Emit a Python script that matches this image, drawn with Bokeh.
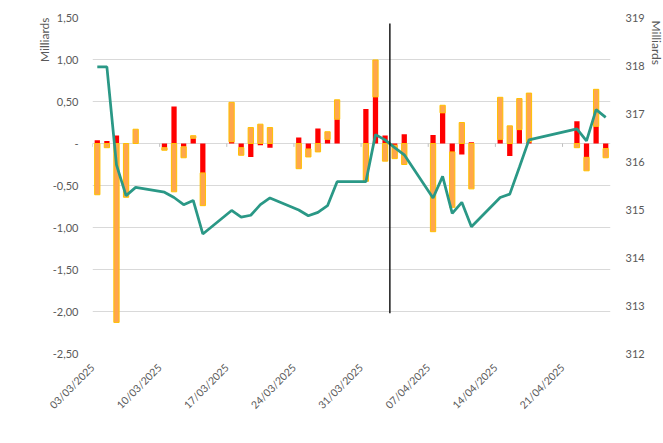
import numpy as np
import pandas as pd
from math import pi
from bokeh.plotting import figure
from bokeh.models import (ColumnDataSource, Range1d, LinearAxis, FixedTicker,
                          DatetimeTickFormatter, CustomJSTickFormatter, Legend,
                          LegendItem, Title, Axis)
from bokeh.embed import file_html
from bokeh.resources import INLINE

# ---------------- data ----------------
dates = [
    "2025-03-03", "2025-03-04", "2025-03-05", "2025-03-06", "2025-03-07",
    "2025-03-10", "2025-03-11", "2025-03-12", "2025-03-13", "2025-03-14",
    "2025-03-17", "2025-03-18", "2025-03-19", "2025-03-20", "2025-03-21",
    "2025-03-24", "2025-03-25", "2025-03-26", "2025-03-27", "2025-03-28",
    "2025-03-31", "2025-04-01", "2025-04-02", "2025-04-03", "2025-04-04",
    "2025-04-07", "2025-04-08", "2025-04-09", "2025-04-10", "2025-04-11",
    "2025-04-14", "2025-04-15", "2025-04-16", "2025-04-17",
    "2025-04-22", "2025-04-23", "2025-04-24", "2025-04-25",
]
effet_brut_collecte = [
    0.04, 0.03, 0.095, 0.0, 0.0,
    -0.05, 0.44, -0.04, 0.063, -0.35,
    0.02, -0.05, -0.16, -0.02, -0.05,
    0.07, -0.065, 0.18, 0.05, 0.29,
    0.41, 0.555, 0.095, -0.02, 0.11,
    0.10, 0.365, -0.10, -0.13, 0.015,
    0.05, -0.15, 0.165, 0.02,
    0.265, -0.165, 0.205, -0.06,
]
effet_valorisation = [
    -0.61, -0.05, -2.13, -0.64, 0.17,
    -0.03, -0.575, -0.13, 0.03, -0.39,
    0.47, -0.09, 0.19, 0.23, 0.19,
    -0.30, -0.095, -0.10, 0.09, 0.23,
    -0.45, 0.44, -0.21, -0.16, -0.25,
    -1.05, 0.09, -0.66, 0.25, -0.54,
    0.50, 0.21, 0.37, 0.58,
    -0.05, -0.16, 0.44, -0.11,
]
actif = [
    317.97, 317.97, 315.93, 315.29, 315.46,
    315.36, 315.25, 315.10, 315.19, 314.49,
    314.98, 314.84, 314.88, 315.10, 315.24,
    314.99, 314.87, 314.94, 315.08, 315.58,
    315.58, 316.56, 316.45, 316.29, 316.14,
    315.24, 315.69, 314.92, 315.15, 314.64,
    315.25, 315.32, 315.88, 316.45,
    316.68, 316.43, 317.08, 316.92,
]
tick_dates = ["2025-03-03", "2025-03-10", "2025-03-17", "2025-03-24",
              "2025-03-31", "2025-04-07", "2025-04-14", "2025-04-21"]
left_ticks = [-2.5, -2.0, -1.5, -1.0, -0.5, 0.0, 0.5, 1.0, 1.5]
right_ticks = [312, 313, 314, 315, 316, 317, 318, 319]
event_date = "2025-04-03"
event_top = 1.43
event_bottom = -2.02

# ---------------- derived ----------------
DAY_MS = 86400000.0
def to_ms(d):
    return pd.Timestamp(d).value / 1e6

x_day = np.array([to_ms(d) for d in dates]) + DAY_MS / 2
red = np.array(effet_brut_collecte)
orange = np.array(effet_valorisation)
orange_bottom = np.where(orange >= 0, np.maximum(red, 0), np.minimum(red, 0))
orange_top = orange_bottom + orange

src = ColumnDataSource(dict(
    x=x_day, red_top=red, red_bottom=np.zeros_like(red),
    orange_top=orange_top, orange_bottom=orange_bottom, actif=actif,
))

x_start = to_ms(dates[0])
x_end = to_ms(dates[-1]) + DAY_MS

FONT = "Lato"
GREY = "#595959"

p = figure(frame_width=518, frame_height=336, output_backend="svg",
           toolbar_location=None, x_axis_type="datetime",
           x_range=Range1d(x_start, x_end),
           y_range=Range1d(left_ticks[0], left_ticks[-1]),
           min_border_left=92, min_border_right=53, min_border_top=17,
           min_border_bottom=10)
p.outline_line_color = None
p.background_fill_color = "white"
p.border_fill_color = "white"

p.extra_y_ranges = {"actif": Range1d(right_ticks[0], right_ticks[-1])}

# grid
p.xgrid.visible = False
p.ygrid.ticker = FixedTicker(ticks=left_ticks)
p.ygrid.grid_line_color = "#D9D9D9"
p.ygrid.grid_line_width = 1

# left axis
ya = p.yaxis[0]
ya.ticker = FixedTicker(ticks=left_ticks)
ya.formatter = CustomJSTickFormatter(code="""
    if (Math.abs(tick) < 1e-9) { return '-'; }
    return tick.toFixed(2).replace('.', ',');
""")
ya.axis_line_color = None
ya.major_tick_line_color = None
ya.minor_tick_line_color = None
ya.major_tick_out = 0
ya.major_tick_in = 0
ya.major_label_standoff = 14
ya.major_label_text_font = FONT
ya.major_label_text_font_size = "11px"
ya.major_label_text_color = GREY

# right axis
ra = LinearAxis(y_range_name="actif", ticker=FixedTicker(ticks=right_ticks))
ra.axis_line_color = None
ra.major_tick_line_color = None
ra.minor_tick_line_color = None
ra.major_tick_out = 0
ra.major_tick_in = 0
ra.major_label_standoff = 15
ra.major_label_text_font = FONT
ra.major_label_text_font_size = "11px"
ra.major_label_text_color = GREY
p.add_layout(ra, "right")

# x axis
xa = p.xaxis[0]
xa.ticker = FixedTicker(ticks=[to_ms(d) for d in tick_dates])
fmt = "%d/%m/%Y"
xa.formatter = DatetimeTickFormatter(days=fmt, months=fmt, years=fmt, hours=fmt,
                                     hourmin=fmt, minutes=fmt, minsec=fmt,
                                     seconds=fmt, milliseconds=fmt,
                                     microseconds=fmt)
xa.major_label_orientation = pi / 4
xa.axis_line_color = None
xa.major_tick_line_color = None
xa.minor_tick_line_color = None
xa.major_label_standoff = 6
xa.major_label_text_font = FONT
xa.major_label_text_font_size = "10.5px"
xa.major_label_text_color = GREY

# small tick marks on the zero line
tx = [to_ms(d) for d in tick_dates]
p.segment(x0=tx, x1=tx, y0=[0] * len(tx), y1=[-0.04] * len(tx),
          line_color="#BFBFBF", line_width=1)

# bars
bw = DAY_MS * 0.55
r_red = p.vbar(x="x", top="red_top", bottom="red_bottom", width=bw, source=src,
               fill_color="#FF0000", line_color=None)
r_or = p.vbar(x="x", top="orange_top", bottom="orange_bottom", width=bw, source=src,
              fill_color="#FFA64D", line_color="#FFC000", line_width=1)

# line
r_line = p.line(x="x", y="actif", source=src, y_range_name="actif",
                line_color="#2A9886", line_width=2.75)

# event vertical line
ex = to_ms(event_date)
p.segment(x0=[ex], x1=[ex], y0=[event_top], y1=[event_bottom],
          line_color="#1A1A1A", line_width=1.5)

# left axis title at the top end of the axis
left_done = False
if "axis_label_align" in Axis.properties():
    ya.axis_label = "Milliards"
    ya.axis_label_text_font = FONT
    ya.axis_label_text_font_size = "12px"
    ya.axis_label_text_font_style = "normal"
    ya.axis_label_text_color = GREY
    ya.axis_label_standoff = 5
    ya.axis_label_orientation = pi / 2
    for v in ("end", "right"):
        try:
            ya.axis_label_align = v
            left_done = True
            break
        except Exception:
            pass
if not left_done:
    ya.axis_label = None
    p.add_layout(Title(text="Milliards", align="right", offset=-3, standoff=5,
                       text_font=FONT, text_font_size="12px",
                       text_font_style="normal", text_color=GREY), "left")

# right axis title at the top end (side-panel title)
p.add_layout(Title(text="Milliards", align="left", offset=3, standoff=2,
                   text_font=FONT, text_font_size="12px",
                   text_font_style="normal", text_color=GREY), "right")

# legend below the plot
legend = Legend(items=[
    LegendItem(label="Effet brut collecte", renderers=[r_red]),
    LegendItem(label="Effet valorisation", renderers=[r_or]),
    LegendItem(label="Actif", renderers=[r_line]),
], orientation="horizontal", location="center")
legend.border_line_color = None
legend.background_fill_alpha = 0
legend.glyph_width = 22
legend.glyph_height = 8
legend.label_height = 14
legend.label_standoff = 5
legend.spacing = 20
legend.padding = 0
legend.margin = 0
legend.label_text_font = FONT
legend.label_text_font_size = "10.5px"
legend.label_text_color = GREY
p.add_layout(legend, "below")

open("out.html", "w").write(file_html(p, INLINE))
